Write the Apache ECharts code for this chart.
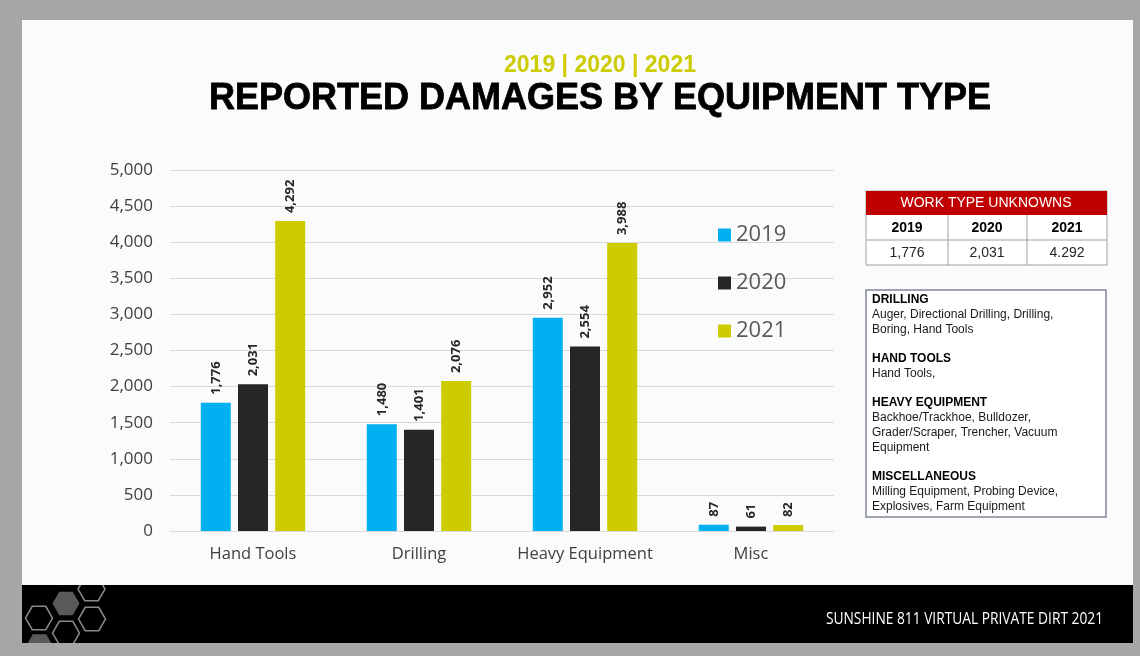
<!DOCTYPE html>
<html>
<head>
<meta charset="utf-8">
<script src="https://cdn.jsdelivr.net/npm/echarts@6/dist/echarts.min.js"></script>
<style>
  html, body { margin: 0; padding: 0; background: #a6a6a6; }
  #chart { width: 1140px; height: 656px; }
</style>
</head>
<body>
<div id="chart"></div>
<script>
const categories = ["Hand Tools", "Drilling", "Heavy Equipment", "Misc"];
const years = ["2019", "2020", "2021"];
const damages2019 = [1776, 1480, 2952, 87];
const damages2020 = [2031, 1401, 2554, 61];
const damages2021 = [4292, 2076, 3988, 82];
const yearColors = ["#00b0f0", "#262626", "#cccc00"];

const unknownYears = ["2019", "2020", "2021"];
const unknownValues = ["1,776", "2,031", "4.292"];

const notes = [
    { head: "DRILLING", lines: ["Auger, Directional Drilling, Drilling,", "Boring, Hand Tools"] },
    { head: "HAND TOOLS", lines: ["Hand Tools,"] },
    { head: "HEAVY EQUIPMENT", lines: ["Backhoe/Trackhoe, Bulldozer,", "Grader/Scraper, Trencher, Vacuum", "Equipment"] },
    { head: "MISCELLANEOUS", lines: ["Milling Equipment, Probing Device,", "Explosives, Farm Equipment"] }
];

const fmt = v => v.toLocaleString("en-US");
const uiFont = "'Open Sans', sans-serif";
const arial = "'Liberation Sans', Arial, sans-serif";

// flat-top hexagon for the footer decoration
function hex(cx, cy, r) {
    const pts = [];
    for (let i = 0; i < 6; i++) {
        const a = Math.PI / 180 * (60 * i);
        pts.push([cx + r * Math.cos(a), cy + r * Math.sin(a)]);
    }
    return pts;
}
const hexLine = { fill: "none", stroke: "#8a8a8a", lineWidth: 1.5 };

const graphics = [
    // slide + footer
    { type: "rect", z: -10, shape: { x: 22, y: 20, width: 1111, height: 565 }, style: { fill: "#fbfbfb" } },
    { type: "rect", z: -10, shape: { x: 22, y: 585, width: 1111, height: 58 }, style: { fill: "#000" } },
    { type: "polygon", z: -9, shape: { points: hex(66, 603.5, 13.5) }, style: { fill: "#595959" } },
    { type: "polygon", z: -9, shape: { points: hex(39.5, 646, 13.5) }, style: { fill: "#595959" } },
    { type: "polygon", z: -9, shape: { points: hex(91.5, 589, 13.5) }, style: hexLine },
    { type: "polygon", z: -9, shape: { points: hex(39, 618, 13.5) }, style: hexLine },
    { type: "polygon", z: -9, shape: { points: hex(92, 619, 13.5) }, style: hexLine },
    { type: "polygon", z: -9, shape: { points: hex(66, 633, 13.5) }, style: hexLine },
    // cover hexagon overflow
    { type: "rect", z: -8, shape: { x: 22, y: 560, width: 120, height: 25 }, style: { fill: "#fbfbfb" } },
    { type: "rect", z: -8, shape: { x: 0, y: 643, width: 200, height: 13 }, style: { fill: "#a6a6a6" } },
    { type: "text", x: 1103, y: 619, scaleX: 0.86, originX: 0, originY: 0, style: {
        text: "SUNSHINE 811 VIRTUAL PRIVATE DIRT 2021", fill: "#fff",
        font: "16px " + uiFont, align: "right", verticalAlign: "middle" } },

    // titles
    { type: "text", x: 600, y: 66, style: {
        text: "2019 | 2020 | 2021", fill: "#cccc00", font: "bold 23px " + arial,
        align: "center", verticalAlign: "middle" } },
    { type: "text", x: 600, y: 99, style: {
        text: "REPORTED DAMAGES BY EQUIPMENT TYPE", fill: "#000", font: "bold 36px " + arial,
        stroke: "#000", lineWidth: 0.8, align: "center", verticalAlign: "middle" } },

    // work type unknowns table
    { type: "rect", shape: { x: 866, y: 191, width: 241, height: 74 }, style: { fill: "#fff", stroke: "#a0a0a0", lineWidth: 1 } },
    { type: "rect", shape: { x: 866, y: 191, width: 241, height: 24 }, style: { fill: "#c00000" } },
    { type: "line", shape: { x1: 866, y1: 240, x2: 1107, y2: 240 }, style: { stroke: "#a0a0a0", lineWidth: 1 } },
    { type: "line", shape: { x1: 948, y1: 215, x2: 948, y2: 265 }, style: { stroke: "#a0a0a0", lineWidth: 1 } },
    { type: "line", shape: { x1: 1027, y1: 215, x2: 1027, y2: 265 }, style: { stroke: "#a0a0a0", lineWidth: 1 } },
    { type: "text", x: 986, y: 203, style: { text: "WORK TYPE UNKNOWNS", fill: "#fff", font: "14px " + arial, align: "center", verticalAlign: "middle" } },

    // definitions box
    { type: "rect", shape: { x: 866, y: 290, width: 240, height: 227 }, style: { fill: "#fff", stroke: "#7f8895", lineWidth: 1.5 } }
];

const colCenters = [907, 987, 1067];
unknownYears.forEach((y, i) => {
    graphics.push({ type: "text", x: colCenters[i], y: 228, style: { text: y, fill: "#000", font: "bold 14px " + arial, align: "center", verticalAlign: "middle" } });
    graphics.push({ type: "text", x: colCenters[i], y: 253, style: { text: unknownValues[i], fill: "#262626", font: "14px " + arial, align: "center", verticalAlign: "middle" } });
});

let ny = 300;
notes.forEach(n => {
    graphics.push({ type: "text", x: 872, y: ny, style: { text: n.head, fill: "#000", font: "bold 12px " + arial, verticalAlign: "middle" } });
    ny += 15;
    n.lines.forEach(l => {
        graphics.push({ type: "text", x: 872, y: ny, style: { text: l, fill: "#1a1a1a", font: "12px " + arial, verticalAlign: "middle" } });
        ny += 15;
    });
    ny += 14;
});

const seriesData = [damages2019, damages2020, damages2021];

const chart = echarts.init(document.getElementById("chart"));
chart.setOption({
    backgroundColor: "#a6a6a6",
    animation: false,
    textStyle: { fontFamily: uiFont },
    grid: { left: 170, right: 306, top: 170, bottom: 125 },
    legend: {
        orient: "vertical",
        left: 713,
        top: 219,
        itemWidth: 13,
        itemHeight: 13,
        itemGap: 26,
        icon: "rect",
        data: years,
        textStyle: { fontSize: 22, color: "#595959", fontFamily: uiFont }
    },
    xAxis: {
        type: "category",
        data: categories,
        axisTick: { show: false },
        axisLine: { lineStyle: { color: "#d9d9d9" } },
        axisLabel: { interval: 0, fontSize: 16.5, color: "#404040", margin: 15 }
    },
    yAxis: {
        type: "value",
        min: 0,
        max: 5000,
        interval: 500,
        axisLabel: { fontSize: 17, color: "#404040", margin: 17, formatter: v => fmt(v) },
        splitLine: { lineStyle: { color: "#d9d9d9" } }
    },
    series: years.map((y, i) => ({
        name: y,
        type: "bar",
        data: seriesData[i],
        barWidth: 30,
        barGap: "24%",
        itemStyle: { color: yearColors[i] },
        label: {
            show: true,
            position: "top",
            rotate: 90,
            align: "left",
            verticalAlign: "middle",
            distance: 8,
            fontSize: 13,
            fontWeight: "bold",
            color: "#262626",
            formatter: p => fmt(p.value)
        }
    })),
    graphic: { elements: graphics }
});
</script>
</body>
</html>
